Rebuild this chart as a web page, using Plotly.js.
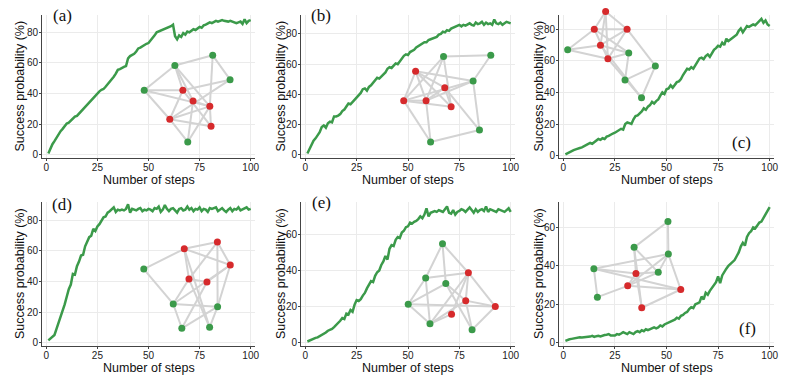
<!DOCTYPE html>
<html>
<head>
<meta charset="utf-8">
<script src="https://cdn.plot.ly/plotly-3.0.1.min.js"></script>
<style>
html, body { margin: 0; padding: 0; background: #fff; }
#plot { width: 789px; height: 384px; }
</style>
</head>
<body>
<div id="plot"></div>
<script>
// step index 1..100 (x values of every curve)
var steps = [];
for (var i = 1; i <= 100; i++) steps.push(i);

// success probability (%) per panel
var probA = [1, 4.5, 7, 9, 11.5, 13, 15.5, 17, 18.5, 20.5,
  21, 22.5, 23.5, 25, 25.5, 27, 28.5, 30, 31.5, 33,
  34, 36, 37.5, 39, 40, 41.5, 42.5, 43, 44.5, 46,
  48, 49.5, 51, 53, 55.5, 56, 57, 57.5, 58, 63,
  64.5, 65, 66, 67.5, 69.5, 70, 71, 72, 72.5, 73,
  74.5, 76, 78, 80, 80.5, 81, 81.5, 82.5, 83, 83.5,
  84, 85, 77.5, 75.5, 78, 77, 79.5, 78.5, 80.5, 80,
  81, 82, 81.5, 82.5, 83.5, 83, 84.5, 85, 85.5, 86.5,
  86, 87, 87.5, 87, 87.5, 88, 87.5, 87, 87, 87.5,
  87, 86.5, 86, 86.5, 87, 85.5, 88.5, 86, 87.5, 88];
var probB = [1, 4, 7, 9.5, 11, 13, 15, 18.5, 19.5, 18,
  21, 22, 21.5, 25.5, 25.5, 26, 27, 29, 30, 32,
  34, 33.5, 35, 36, 38, 39.5, 41, 43.5, 44, 42.5,
  45, 46, 47.5, 49.5, 51, 50.5, 52, 53, 54.5, 57,
  58, 57.5, 59, 60.5, 60, 62, 63.5, 65.5, 66.5, 66,
  68, 68.5, 69.5, 71, 72, 73, 74, 74.5, 74.5, 76,
  76.5, 77, 77.5, 78, 79.5, 80, 81.5, 81, 82.5, 82,
  83.5, 84, 84.5, 85.5, 86, 85, 86, 85.5, 86, 87,
  86, 85.5, 87.5, 86.5, 87, 88, 86, 87.5, 86.5, 87,
  86, 89.5, 87, 86.5, 87.5, 86, 87, 88, 87.5, 87];
var probC = [0.8, 1.5, 2.5, 3, 3.5, 4, 4.2, 4.8, 5.2, 6,
  6.5, 7.5, 8, 7.5, 8.5, 9.5, 10.5, 10, 11, 10.5,
  12, 12.5, 13.5, 14, 14.5, 15.5, 16, 17, 16.5, 20,
  21, 20.5, 20, 23, 25, 25.5, 26.5, 28, 30, 29,
  31, 32, 34, 33, 34.5, 35.5, 38, 40, 39, 42,
  42.5, 44.5, 43, 45, 46.5, 47, 48.5, 51, 53, 55,
  54.5, 56, 55, 57.5, 59, 61.5, 62, 61, 63, 64,
  62.5, 65, 67, 68, 69.5, 69, 71.5, 70, 74, 72.5,
  73.5, 74, 75.5, 76.5, 79, 80.5, 78, 80, 82, 81.5,
  82.5, 83, 82.5, 84, 85, 86.5, 84, 85.5, 83, 82];
var probD = [1.5, 2.5, 3.5, 5, 9, 13, 17, 20, 25, 30,
  35, 38, 45, 44.5, 50, 53, 57, 57.5, 63, 66,
  69, 70, 74.5, 73, 76, 77.5, 80, 82, 82.5, 85,
  86, 87.5, 88.5, 85.5, 87, 86.5, 87, 86.5, 87.5, 90.5,
  85, 87.5, 87, 86.5, 87.5, 88, 86, 87, 86.5, 87.5,
  87, 86, 88, 87.5, 89, 85.5, 87, 90, 87.5, 86,
  87.5, 88, 86.5, 85, 87.5, 88, 86.5, 87, 89, 87,
  88, 86, 87.5, 87, 88.5, 86, 87.5, 87, 85.5, 88,
  87.5, 88, 88.5, 86, 87, 88, 86.5, 85.5, 87, 88,
  86, 87.5, 87, 88.5, 86.5, 87, 88, 88.5, 87, 87.5];
var probE = [0.5, 1, 1.8, 2.2, 2.5, 2.8, 3.5, 3.8, 4.5, 5.5,
  6.5, 7, 7.5, 8.5, 9.5, 11, 12, 13.5, 13, 16,
  15.5, 18, 17, 21, 23.5, 23, 24, 26, 27.5, 30,
  32, 34, 33.5, 37, 39, 40, 43, 45, 48, 46,
  52, 54, 53.5, 57, 58.5, 58, 61, 62, 64, 64.5,
  66.5, 66, 67, 67.5, 68.5, 70, 69, 71, 74.5, 70,
  72, 72.5, 73, 72.5, 73.5, 73, 72.5, 74, 75.5, 72,
  71.5, 73.5, 71, 72.5, 73, 74, 73.5, 72.5, 73.5, 75,
  73.5, 72, 74, 72.5, 73.5, 74, 73, 75.5, 72.5, 74,
  73.5, 73, 72.5, 74, 73.5, 73, 72.5, 73.5, 74.5, 72.5];
var probF = [1, 1.5, 1.8, 2, 2.2, 2.5, 2.6, 2.8, 2.7, 2.8,
  2.9, 3, 3.2, 3.6, 3, 3.4, 3.6, 3.3, 3.8, 4,
  4.2, 4.5, 3.8, 3.6, 3.8, 4.5, 4.2, 4.8, 5.5, 5,
  4.5, 5.5, 5, 4.5, 5.5, 6, 5.5, 6.5, 6, 7,
  6.5, 7, 7.5, 8, 7.5, 8, 9, 8.5, 9.5, 10,
  10.5, 11, 11.5, 12, 13, 12.5, 14, 14.5, 15.5, 16,
  17.5, 18.5, 18, 20, 20.5, 21, 24, 22.5, 26, 25,
  27, 28.5, 30, 31.5, 34.5, 31, 35, 37, 38.5, 40,
  41, 42, 43, 45, 47, 50, 52, 50.5, 55, 57,
  58, 60, 59.5, 61, 62.5, 63, 65, 66.5, 68.5, 70.5];

// graph insets: node positions (greens first, then reds) and edges by node index
var nodeXA = [47.9, 62.9, 81.4, 89.9, 69.2, 66.8, 71.8, 80, 60.4, 80.6];
var nodeYA = [42.2, 58.3, 65, 49.1, 8.5, 42.2, 35.2, 31.7, 23.3, 18.7];
var edgesA = [[0,1],[1,2],[2,3],[0,5],[0,7],[0,8],[1,6],[1,7],[1,5],[2,7],[3,5],[3,8],
  [5,8],[5,9],[6,7],[8,7],[8,9],[7,9],[8,4],[6,4],[7,4]];

var nodeXB = [67.3, 90.3, 81.7, 84.8, 61, 53.7, 67.9, 47.9, 58.8, 71];
var nodeYB = [65, 65.9, 48.9, 16.5, 8.6, 55.3, 44.5, 35.9, 35.9, 31.9];
var edgesB = [[0,1],[1,2],[0,7],[0,8],[0,9],[5,2],[5,6],[5,9],[5,7],[5,8],[6,8],[6,9],
  [7,8],[7,9],[7,2],[7,4],[8,4],[8,2],[2,3],[4,3],[6,3]];

var nodeXC = [2.1, 31.7, 44.6, 29.9, 37.9, 20.5, 15, 30.9, 18, 21.6];
var nodeYC = [67, 65, 56.8, 47.8, 36.6, 91.2, 80, 80, 69.9, 61.3];
var edgesC = [[5,6],[5,7],[5,8],[5,9],[6,7],[6,0],[6,9],[6,1],[7,8],[7,9],[7,2],[8,0],
  [8,1],[0,9],[9,1],[9,4],[8,4],[1,3],[2,3],[2,4]];

var nodeXD = [47.7, 62.1, 83.8, 66.3, 79.9, 67.5, 83.7, 90, 69.8, 78.6];
var nodeYD = [48.1, 25.3, 23.5, 9.4, 10, 61.4, 65.8, 50.8, 41.6, 39.7];
var edgesD = [[0,5],[0,1],[5,6],[5,7],[5,8],[5,4],[6,7],[6,8],[6,2],[7,9],[7,1],[7,2],
  [8,9],[8,1],[8,4],[9,3],[1,2],[1,3],[2,4],[2,3]];

var nodeXE = [66.8, 58.6, 68.4, 50.1, 60.7, 81.2, 79.4, 78.1, 71.2, 92.5];
var nodeYE = [54.8, 35.8, 32.7, 21.2, 10.3, 7, 38.7, 23.2, 15.7, 19.9];
var edgesE = [[0,1],[0,2],[0,6],[1,3],[1,6],[1,4],[3,2],[3,4],[3,9],[2,7],[2,5],[6,7],
  [6,8],[6,9],[6,4],[7,9],[8,4],[4,7],[9,5],[7,5]];

var nodeXF = [50.7, 34.3, 50.9, 14.8, 46, 16.5, 35.2, 31.2, 56.9, 38];
var nodeYF = [63.1, 49.6, 46.1, 38.5, 36.6, 23.7, 36, 29.6, 27.7, 18.2];
var edgesF = [[0,1],[0,2],[1,6],[1,4],[1,9],[3,2],[3,6],[3,8],[3,5],[2,4],[2,8],[2,7],
  [6,4],[6,7],[6,9],[7,5],[7,8],[8,9],[7,4]];

var nGreen = [5, 5, 5, 5, 6, 6];
var panelLabels = ['(a)', '(b)', '(c)', '(d)', '(e)', '(f)'];
var xTitle = 'Number of steps';
var yTitle = 'Success probability (%)';
var yTop = [91.3, 92.5, 89, 92, 78, 73.2];
var yBottom = [-2, -2, -1.5, -2.2, -2, -1.7];

var probs = [probA, probB, probC, probD, probE, probF];
var nodeXs = [nodeXA, nodeXB, nodeXC, nodeXD, nodeXE, nodeXF];
var nodeYs = [nodeYA, nodeYB, nodeYC, nodeYD, nodeYE, nodeYF];
var edgeLists = [edgesA, edgesB, edgesC, edgesD, edgesE, edgesF];

// layout geometry (pixels of the 789x384 page)
var W = 789, H = 384;
var colPx = [[42, 255], [301, 515], [559, 774]];
var rowPx = [[15, 158], [202, 346]];
var labelPx = [[62, 15], [321, 15], [741, 142], [62, 204], [321, 202], [747, 328]];
var xTitleY = [179.5, 367.5];
var yTitleX = [20, 281, 539];
var insetPad = 10;

var green = '#3b9a4a', red = '#d62a2c', edgeGray = '#d3d3d3';
var axisFont = {family: 'Liberation Sans, Arial, sans-serif', size: 10, color: '#222'};
var titleFont = {family: 'Liberation Sans, Arial, sans-serif', size: 12.5, color: '#111'};

var data = [];
var layout = {
  width: W, height: H,
  margin: {l: 0, r: 0, t: 0, b: 0},
  showlegend: false,
  hovermode: false,
  paper_bgcolor: '#fff',
  plot_bgcolor: 'rgba(0,0,0,0)',
  annotations: []
};

for (var p = 0; p < 6; p++) {
  var col = p % 3, row = Math.floor(p / 3);
  var n = p + 1, m = p + 7;
  var xId = n === 1 ? 'x' : 'x' + n, yId = n === 1 ? 'y' : 'y' + n;
  var xKey = n === 1 ? 'xaxis' : 'xaxis' + n, yKey = n === 1 ? 'yaxis' : 'yaxis' + n;
  var xDom = [colPx[col][0] / W, colPx[col][1] / W];
  var yDom = [1 - rowPx[row][1] / H, 1 - rowPx[row][0] / H];

  data.push({
    x: steps, y: probs[p], xaxis: xId, yaxis: yId,
    type: 'scatter', mode: 'lines',
    line: {color: green, width: 2.5}
  });

  layout[xKey] = {
    domain: xDom, anchor: yId, range: [-2.1, 102.1],
    tickvals: [0, 25, 50, 75, 100],
    showgrid: true, gridcolor: '#ebebeb', gridwidth: 1, zeroline: false,
    showline: true, linecolor: '#444', linewidth: 1,
    ticks: 'outside', ticklen: 2, tickcolor: '#444', tickfont: axisFont,
    ticklabelstandoff: -2,
    fixedrange: true
  };
  layout[yKey] = {
    domain: yDom, anchor: xId, range: [yBottom[p], yTop[p]],
    tick0: 0, dtick: 20,
    showgrid: true, gridcolor: '#ebebeb', gridwidth: 1, zeroline: false,
    showline: true, linecolor: '#444', linewidth: 1,
    ticks: 'outside', ticklen: 2, tickcolor: '#444', tickfont: axisFont,
    ticklabelstandoff: -1,
    fixedrange: true
  };

  // inset graph on an invisible overlay axis pair, same scale, a bit taller
  var pxPerUnit = (rowPx[row][1] - rowPx[row][0]) / (yTop[p] - yBottom[p]);
  layout['xaxis' + m] = {domain: xDom, anchor: 'y' + m, range: [-2.1, 102.1], visible: false, fixedrange: true};
  layout['yaxis' + m] = {
    domain: [yDom[0], yDom[1] + insetPad / H], anchor: 'x' + m,
    range: [yBottom[p], yTop[p] + insetPad / pxPerUnit], visible: false, fixedrange: true
  };

  var nx = nodeXs[p], ny = nodeYs[p], ex = [], ey = [];
  edgeLists[p].forEach(function (e) {
    ex.push(nx[e[0]], nx[e[1]], null);
    ey.push(ny[e[0]], ny[e[1]], null);
  });
  data.push({
    x: ex, y: ey, xaxis: 'x' + m, yaxis: 'y' + m,
    type: 'scatter', mode: 'lines', line: {color: edgeGray, width: 2}
  });
  data.push({
    x: nx.slice(0, nGreen[p]), y: ny.slice(0, nGreen[p]), xaxis: 'x' + m, yaxis: 'y' + m,
    type: 'scatter', mode: 'markers', marker: {color: green, size: 7}, cliponaxis: false
  });
  data.push({
    x: nx.slice(nGreen[p]), y: ny.slice(nGreen[p]), xaxis: 'x' + m, yaxis: 'y' + m,
    type: 'scatter', mode: 'markers', marker: {color: red, size: 7}, cliponaxis: false
  });

  // axis titles placed as annotations to match the original spacing
  layout.annotations.push({
    text: xTitle, xref: 'paper', yref: 'paper',
    x: (colPx[col][0] + colPx[col][1]) / 2 / W, y: 1 - xTitleY[row] / H,
    xanchor: 'center', yanchor: 'middle', showarrow: false, font: titleFont
  });
  layout.annotations.push({
    text: yTitle, xref: 'paper', yref: 'paper', textangle: -90,
    x: yTitleX[col] / W, y: 1 - (rowPx[row][0] + rowPx[row][1]) / 2 / H,
    xanchor: 'center', yanchor: 'middle', showarrow: false, font: titleFont
  });
  layout.annotations.push({
    text: panelLabels[p], xref: 'paper', yref: 'paper',
    x: labelPx[p][0] / W, y: 1 - labelPx[p][1] / H,
    xanchor: 'center', yanchor: 'middle', showarrow: false,
    font: {family: 'Liberation Serif, DejaVu Serif, serif', size: 17, color: '#111'}
  });
}

Plotly.newPlot('plot', data, layout, {displayModeBar: false, staticPlot: true});
</script>
</body>
</html>
